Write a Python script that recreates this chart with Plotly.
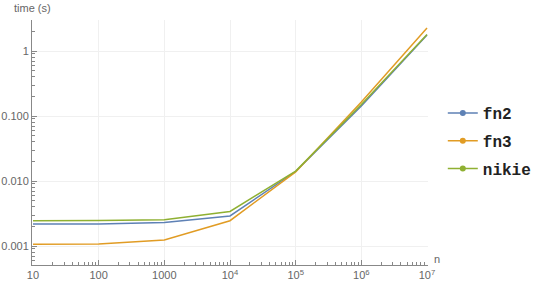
import plotly.graph_objects as go

n_values = [10, 100, 1000, 1e4, 1e5, 1e6, 1e7]
fn2 = [0.00218, 0.00219, 0.00230, 0.0029, 0.0140, 0.143, 1.76]
fn3 = [0.00106, 0.00107, 0.00124, 0.00245, 0.0138, 0.164, 2.25]
nikie = [0.00245, 0.00246, 0.00254, 0.0034, 0.0142, 0.150, 1.80]

series = [("fn2", fn2, "#5E81B5"), ("fn3", fn3, "#E19C24"), ("nikie", nikie, "#8FB032")]

x_tickvals = [10, 100, 1000, 1e4, 1e5, 1e6, 1e7]
x_ticktext = ["10", "100", "1000", "10<sup>4</sup>", "10<sup>5</sup>", "10<sup>6</sup>", "10<sup>7</sup>"]
y_tickvals = [0.001, 0.01, 0.1, 1]
y_ticktext = ["0.001", "0.010", "0.100", "1"]

fig = go.Figure()
for name, vals, color in series:
    fig.add_trace(go.Scatter(x=n_values, y=vals, mode="lines", name=name,
                             line=dict(color=color, width=1.5), showlegend=False))
for name, vals, color in series:
    fig.add_trace(go.Scatter(x=[None], y=[None], mode="lines+markers", name=name,
                             legendgroup=name,
                             line=dict(color=color, width=1.5),
                             marker=dict(color=color, size=6)))

axis_font = dict(family="Liberation Sans, Arial, sans-serif", size=11, color="#666666")

axis_common = dict(
    type="log", tickmode="array",
    ticks="inside", ticklen=5, tickcolor="#888888", tickwidth=1,
    showline=True, linecolor="#888888", linewidth=1,
    showgrid=True, gridcolor="#f0f0f0", gridwidth=1,
    zeroline=False, tickfont=axis_font, automargin=False,
    minor=dict(ticks="inside", ticklen=3, tickcolor="#888888", tickwidth=1,
               dtick="D1", showgrid=False),
)

fig.update_layout(
    width=540, height=285,
    margin=dict(l=32, r=112, t=20, b=20, autoexpand=False),
    paper_bgcolor="white", plot_bgcolor="white",
    font=axis_font,
    xaxis=dict(axis_common, range=[0.985, 7.015],
               tickvals=x_tickvals, ticktext=x_ticktext),
    yaxis=dict(axis_common, range=[-3.292, 0.477],
               tickvals=y_tickvals, ticktext=y_ticktext),
    legend=dict(xref="container", yref="container", x=0.82, y=0.505,
                xanchor="left", yanchor="middle",
                font=dict(family="Liberation Mono, Courier New, monospace", size=16,
                          color="#222222", weight="bold"),
                tracegroupgap=4, itemwidth=30, bgcolor="rgba(0,0,0,0)"),
    annotations=[
        dict(text="time (s)", xref="paper", yref="paper", x=0, y=1, xshift=-20, yshift=4,
             xanchor="left", yanchor="bottom", showarrow=False, font=axis_font),
        dict(text="n", xref="paper", yref="paper", x=1, y=0, xshift=4, yshift=-2,
             xanchor="left", yanchor="bottom", showarrow=False, font=axis_font),
    ],
)

fig.write_html("out.html")
